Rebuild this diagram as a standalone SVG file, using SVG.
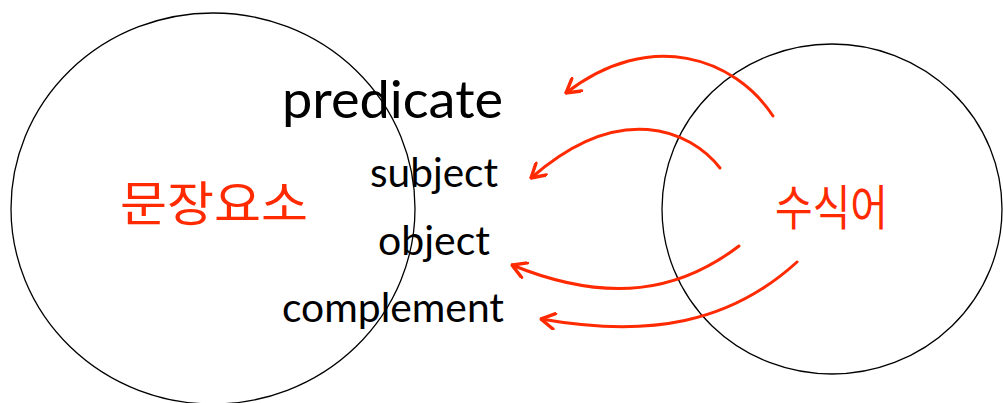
<svg xmlns="http://www.w3.org/2000/svg" width="1003" height="403" viewBox="0 0 1003 403">
<style>
.ring{fill:none;stroke:#000;stroke-width:1.3}
.arc{fill:none;stroke:#ff2a00;stroke-width:3;stroke-linecap:round}
.en{font-family:Lato,"Noto Sans",sans-serif;fill:#000}
.ko{font-family:"Noto Sans CJK KR","Noto Sans",sans-serif;fill:#ff2a00;font-size:48px}
</style>
<defs>
<marker id="ah" markerUnits="userSpaceOnUse" markerWidth="18" markerHeight="18" refX="15" refY="8" orient="auto" viewBox="0 0 16 16">
<path d="M3,1 L15,8 L3,15" fill="none" stroke="#ff2a00" stroke-width="3" stroke-linecap="round" stroke-linejoin="miter"/>
</marker>
</defs>
<rect width="1003" height="403" fill="#fff"/>
<g id="node-left">
<ellipse class="ring" cx="213" cy="208.5" rx="202" ry="195.5"/>
<text class="ko" x="120" y="221" textLength="188" lengthAdjust="spacingAndGlyphs">문장요소</text>
</g>
<g id="node-right">
<ellipse class="ring" cx="832" cy="209" rx="170" ry="165"/>
<text class="ko" x="775" y="225" textLength="113" lengthAdjust="spacingAndGlyphs">수식어</text>
</g>
<g id="labels">
<text class="en" x="282" y="118" font-size="53" textLength="221" lengthAdjust="spacingAndGlyphs">predicate</text>
<text class="en" x="370" y="187" font-size="41" textLength="128" lengthAdjust="spacingAndGlyphs">subject</text>
<text class="en" x="378" y="255" font-size="41" textLength="112" lengthAdjust="spacingAndGlyphs">object</text>
<text class="en" x="282" y="322" font-size="41" textLength="222" lengthAdjust="spacingAndGlyphs">complement</text>
</g>
<g id="connectors">
<path class="arc" d="M773,116 C735,58 650,28 566,93" marker-end="url(#ah)"/>
<path class="arc" d="M720,168 C690,130 620,100 531,178" marker-end="url(#ah)"/>
<path class="arc" d="M739,246 C680,291 610,305 512,265" marker-end="url(#ah)"/>
<path class="arc" d="M797,262 C730,323 650,338 541,319" marker-end="url(#ah)"/>
</g>
</svg>
